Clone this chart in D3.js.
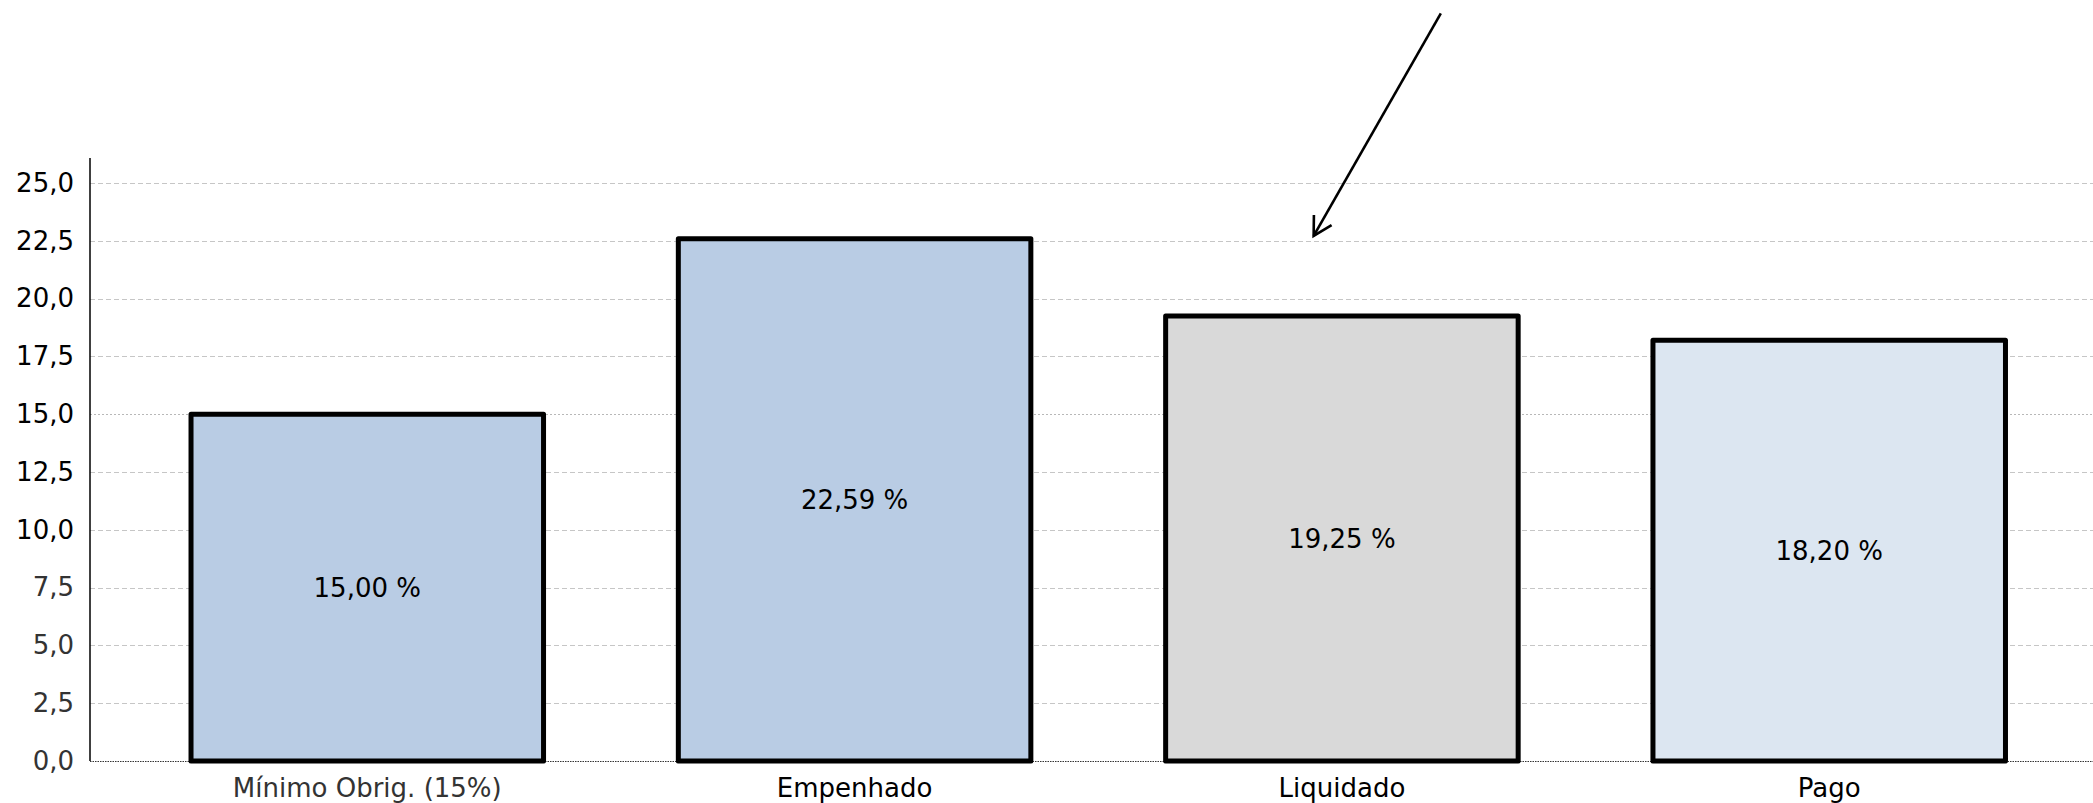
<!DOCTYPE html>
<html>
<head>
<meta charset="utf-8">
<script src="https://cdn.jsdelivr.net/npm/d3@7"></script>
<style>
  html, body { margin: 0; padding: 0; background: #fff; }
  svg { display: block; font-family: "DejaVu Sans", sans-serif; }
</style>
</head>
<body>
<svg id="chart" width="2093" height="803"></svg>
<script>
// ---- data ----
const categories = ["Mínimo Obrig. (15%)", "Empenhado", "Liquidado", "Pago"];
const values = [15.00, 22.59, 19.25, 18.20];
const barColors = ["#b9cce4", "#b9cce4", "#d9d9d9", "#dce6f1"];
const yTicks = [0, 2.5, 5, 7.5, 10, 12.5, 15, 17.5, 20, 22.5, 25];
const yMax = 26;
// annotation arrow (in data terms: category + fraction of band step, value)
const arrowStart = { category: "Liquidado", offset: 0.203, value: 32.34 };
const arrowEnd = { category: "Liquidado", offset: -0.058, value: 22.71 };

// ---- layout ----
const W = 2093, H = 803;
const svg = d3.select("#chart");
const x = d3.scaleBand().domain(categories).range([90, 2106.5])
  .paddingInner(0.2766).paddingOuter(0.2073);
const y = d3.scaleLinear().domain([0, yMax]).range([761, 159.9]);
const fmtTick = d => d.toFixed(1).replace(".", ",");
const fmtVal = d => d.toFixed(2).replace(".", ",") + " %";

// gridlines
const grid = svg.append("g");
grid.selectAll("line").data(yTicks.filter(d => d > 0)).join("line")
  .attr("x1", x.range()[0]).attr("x2", W)
  .attr("y1", d => Math.round(y(d)) + 0.5).attr("y2", d => Math.round(y(d)) + 0.5)
  .attr("stroke", d => d === 15 ? "#b8b8b8" : "#c6c6c6")
  .attr("stroke-width", 1)
  .attr("stroke-dasharray", d => d === 15 ? "2,2" : "5,3");

// baseline (dotted)
svg.append("line")
  .attr("x1", x.range()[0]).attr("x2", W)
  .attr("y1", y(0) + 0.5).attr("y2", y(0) + 0.5)
  .attr("stroke", "#333").attr("stroke-width", 1.2).attr("stroke-dasharray", "1.5,1");

// y axis
const yAxis = d3.axisLeft(y).tickValues(yTicks).tickFormat(fmtTick).tickSize(0).tickPadding(16);
const ya = svg.append("g").attr("transform", `translate(${x.range()[0]},0)`).call(yAxis);
ya.select(".domain").attr("stroke", "#000").attr("stroke-width", 1.5)
  .attr("d", `M0,${y(yMax) - 2}V${y(0)}`);
ya.selectAll("text").attr("font-size", 26).attr("font-family", "DejaVu Sans")
  .attr("fill", d => d < 10 ? "#333" : "#000");

// bars
const data = categories.map((c, i) => ({ c, v: values[i], color: barColors[i] }));
svg.append("g").selectAll("rect").data(data).join("rect")
  .attr("x", d => x(d.c)).attr("width", x.bandwidth())
  .attr("y", d => y(d.v)).attr("height", d => y(0) - y(d.v))
  .attr("fill", d => d.color)
  .attr("stroke", "#000").attr("stroke-width", 5).attr("stroke-linejoin", "round");

// value labels
svg.append("g").selectAll("text").data(data).join("text")
  .attr("x", d => x(d.c) + x.bandwidth() / 2)
  .attr("y", d => (y(d.v) + y(0)) / 2)
  .attr("dy", "0.35em")
  .attr("text-anchor", "middle")
  .attr("font-size", 26).attr("fill", "#000")
  .text(d => fmtVal(d.v));

// category labels
const xAxis = d3.axisBottom(x).tickSize(0).tickPadding(0);
const xa = svg.append("g").attr("transform", `translate(0,${y(0)})`).call(xAxis);
xa.select(".domain").remove();
xa.selectAll("text").attr("font-size", 26).attr("font-family", "DejaVu Sans")
  .attr("fill", (d, i) => i === 0 ? "#333" : "#000")
  .attr("dy", null).attr("y", 36);

// arrow annotation
const px = a => x(a.category) + x.bandwidth() / 2 + a.offset * x.step();
const x0 = px(arrowStart), y0 = y(arrowStart.value);
const x1 = px(arrowEnd), y1 = y(arrowEnd.value);
const ang = Math.atan2(y0 - y1, x0 - x1);
const armLen = 21, spread = 29 * Math.PI / 180;
const arrow = svg.append("g").attr("stroke", "#000").attr("stroke-width", 2.6)
  .attr("fill", "none").attr("stroke-linecap", "butt");
arrow.append("line").attr("x1", x0).attr("y1", y0).attr("x2", x1).attr("y2", y1);
arrow.append("path")
  .attr("stroke-linejoin", "miter")
  .attr("d", `M${x1 + armLen * Math.cos(ang - spread)},${y1 + armLen * Math.sin(ang - spread)}L${x1},${y1}L${x1 + armLen * Math.cos(ang + spread)},${y1 + armLen * Math.sin(ang + spread)}`);
</script>
</body>
</html>
